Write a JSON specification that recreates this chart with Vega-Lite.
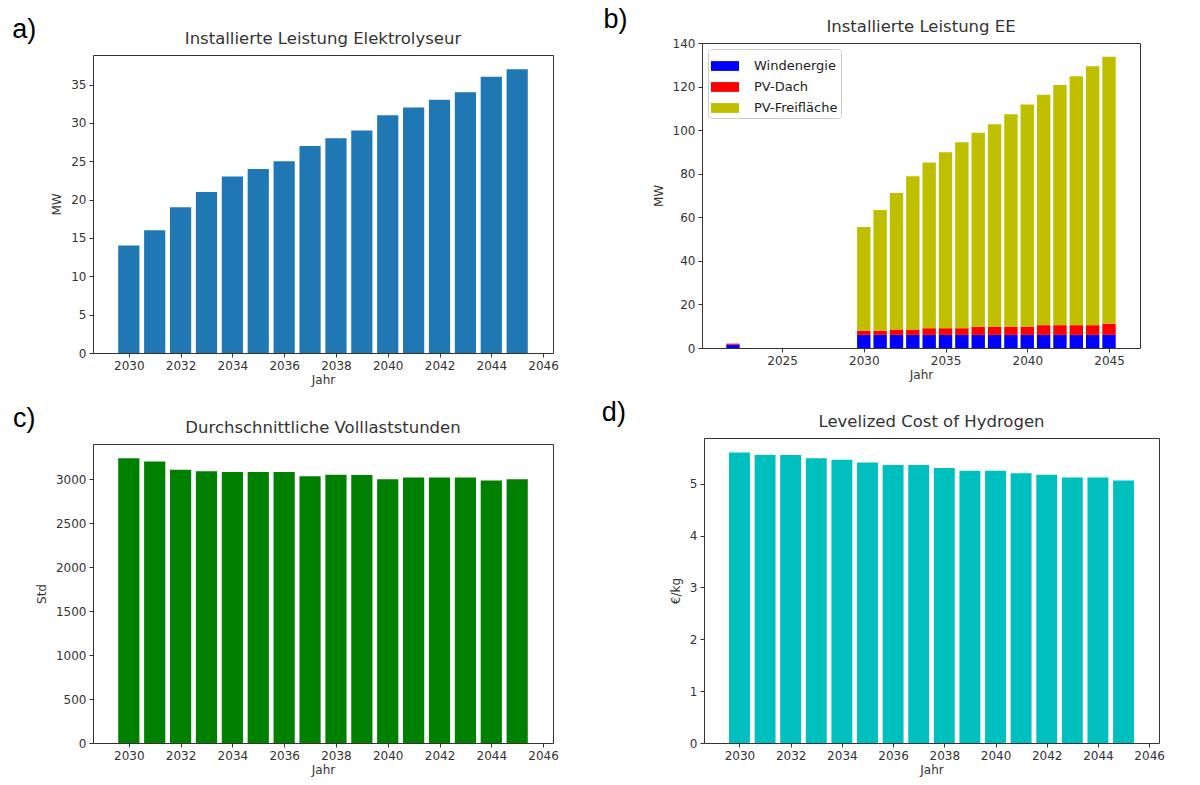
{
  "$schema": "https://vega.github.io/schema/vega-lite/v6.json",
  "padding": {"left": 12, "top": 0, "right": 5, "bottom": 5},
  "background": "white",
  "spacing": 9,
  "resolve": {"scale": {"color": "independent"}, "legend": {"color": "independent"}},
  "datasets": {
    "elektrolyseur": [
      {"Jahr": 2030, "MW": 14}, {"Jahr": 2031, "MW": 16}, {"Jahr": 2032, "MW": 19}, {"Jahr": 2033, "MW": 21},
      {"Jahr": 2034, "MW": 23}, {"Jahr": 2035, "MW": 24}, {"Jahr": 2036, "MW": 25}, {"Jahr": 2037, "MW": 27},
      {"Jahr": 2038, "MW": 28}, {"Jahr": 2039, "MW": 29}, {"Jahr": 2040, "MW": 31}, {"Jahr": 2041, "MW": 32},
      {"Jahr": 2042, "MW": 33}, {"Jahr": 2043, "MW": 34}, {"Jahr": 2044, "MW": 36}, {"Jahr": 2045, "MW": 37}
    ],
    "ee": [
      {"Jahr": 2022, "Technologie": "Windenergie", "Ebene": 1, "MW": 1.5}, {"Jahr": 2022, "Technologie": "PV-Dach", "Ebene": 2, "MW": 0.5}, {"Jahr": 2022, "Technologie": "PV-Freifläche", "Ebene": 3, "MW": 0},
      {"Jahr": 2030, "Technologie": "Windenergie", "Ebene": 1, "MW": 6}, {"Jahr": 2030, "Technologie": "PV-Dach", "Ebene": 2, "MW": 2.0}, {"Jahr": 2030, "Technologie": "PV-Freifläche", "Ebene": 3, "MW": 47.5},
      {"Jahr": 2031, "Technologie": "Windenergie", "Ebene": 1, "MW": 6}, {"Jahr": 2031, "Technologie": "PV-Dach", "Ebene": 2, "MW": 2.0}, {"Jahr": 2031, "Technologie": "PV-Freifläche", "Ebene": 3, "MW": 55.3},
      {"Jahr": 2032, "Technologie": "Windenergie", "Ebene": 1, "MW": 6}, {"Jahr": 2032, "Technologie": "PV-Dach", "Ebene": 2, "MW": 2.5}, {"Jahr": 2032, "Technologie": "PV-Freifläche", "Ebene": 3, "MW": 62.6},
      {"Jahr": 2033, "Technologie": "Windenergie", "Ebene": 1, "MW": 6}, {"Jahr": 2033, "Technologie": "PV-Dach", "Ebene": 2, "MW": 2.5}, {"Jahr": 2033, "Technologie": "PV-Freifläche", "Ebene": 3, "MW": 70.3},
      {"Jahr": 2034, "Technologie": "Windenergie", "Ebene": 1, "MW": 6}, {"Jahr": 2034, "Technologie": "PV-Dach", "Ebene": 2, "MW": 3.1}, {"Jahr": 2034, "Technologie": "PV-Freifläche", "Ebene": 3, "MW": 76.1},
      {"Jahr": 2035, "Technologie": "Windenergie", "Ebene": 1, "MW": 6}, {"Jahr": 2035, "Technologie": "PV-Dach", "Ebene": 2, "MW": 3.1}, {"Jahr": 2035, "Technologie": "PV-Freifläche", "Ebene": 3, "MW": 80.7},
      {"Jahr": 2036, "Technologie": "Windenergie", "Ebene": 1, "MW": 6}, {"Jahr": 2036, "Technologie": "PV-Dach", "Ebene": 2, "MW": 3.1}, {"Jahr": 2036, "Technologie": "PV-Freifläche", "Ebene": 3, "MW": 85.3},
      {"Jahr": 2037, "Technologie": "Windenergie", "Ebene": 1, "MW": 6}, {"Jahr": 2037, "Technologie": "PV-Dach", "Ebene": 2, "MW": 3.8}, {"Jahr": 2037, "Technologie": "PV-Freifläche", "Ebene": 3, "MW": 89.0},
      {"Jahr": 2038, "Technologie": "Windenergie", "Ebene": 1, "MW": 6}, {"Jahr": 2038, "Technologie": "PV-Dach", "Ebene": 2, "MW": 3.8}, {"Jahr": 2038, "Technologie": "PV-Freifläche", "Ebene": 3, "MW": 92.9},
      {"Jahr": 2039, "Technologie": "Windenergie", "Ebene": 1, "MW": 6}, {"Jahr": 2039, "Technologie": "PV-Dach", "Ebene": 2, "MW": 3.8}, {"Jahr": 2039, "Technologie": "PV-Freifläche", "Ebene": 3, "MW": 97.5},
      {"Jahr": 2040, "Technologie": "Windenergie", "Ebene": 1, "MW": 6}, {"Jahr": 2040, "Technologie": "PV-Dach", "Ebene": 2, "MW": 3.8}, {"Jahr": 2040, "Technologie": "PV-Freifläche", "Ebene": 3, "MW": 102.0},
      {"Jahr": 2041, "Technologie": "Windenergie", "Ebene": 1, "MW": 6}, {"Jahr": 2041, "Technologie": "PV-Dach", "Ebene": 2, "MW": 4.5}, {"Jahr": 2041, "Technologie": "PV-Freifläche", "Ebene": 3, "MW": 105.8},
      {"Jahr": 2042, "Technologie": "Windenergie", "Ebene": 1, "MW": 6}, {"Jahr": 2042, "Technologie": "PV-Dach", "Ebene": 2, "MW": 4.5}, {"Jahr": 2042, "Technologie": "PV-Freifläche", "Ebene": 3, "MW": 110.2},
      {"Jahr": 2043, "Technologie": "Windenergie", "Ebene": 1, "MW": 6}, {"Jahr": 2043, "Technologie": "PV-Dach", "Ebene": 2, "MW": 4.5}, {"Jahr": 2043, "Technologie": "PV-Freifläche", "Ebene": 3, "MW": 114.2},
      {"Jahr": 2044, "Technologie": "Windenergie", "Ebene": 1, "MW": 6}, {"Jahr": 2044, "Technologie": "PV-Dach", "Ebene": 2, "MW": 4.5}, {"Jahr": 2044, "Technologie": "PV-Freifläche", "Ebene": 3, "MW": 118.8},
      {"Jahr": 2045, "Technologie": "Windenergie", "Ebene": 1, "MW": 6}, {"Jahr": 2045, "Technologie": "PV-Dach", "Ebene": 2, "MW": 5.2}, {"Jahr": 2045, "Technologie": "PV-Freifläche", "Ebene": 3, "MW": 122.5}
    ],
    "volllast": [
      {"Jahr": 2030, "Std": 3241}, {"Jahr": 2031, "Std": 3204}, {"Jahr": 2032, "Std": 3109}, {"Jahr": 2033, "Std": 3094},
      {"Jahr": 2034, "Std": 3083}, {"Jahr": 2035, "Std": 3083}, {"Jahr": 2036, "Std": 3083}, {"Jahr": 2037, "Std": 3037},
      {"Jahr": 2038, "Std": 3053}, {"Jahr": 2039, "Std": 3049}, {"Jahr": 2040, "Std": 3003}, {"Jahr": 2041, "Std": 3022},
      {"Jahr": 2042, "Std": 3022}, {"Jahr": 2043, "Std": 3022}, {"Jahr": 2044, "Std": 2988}, {"Jahr": 2045, "Std": 3003}
    ],
    "lcoh": [
      {"Jahr": 2030, "EUR": 5.60}, {"Jahr": 2031, "EUR": 5.55}, {"Jahr": 2032, "EUR": 5.55}, {"Jahr": 2033, "EUR": 5.49},
      {"Jahr": 2034, "EUR": 5.46}, {"Jahr": 2035, "EUR": 5.41}, {"Jahr": 2036, "EUR": 5.36}, {"Jahr": 2037, "EUR": 5.36},
      {"Jahr": 2038, "EUR": 5.30}, {"Jahr": 2039, "EUR": 5.25}, {"Jahr": 2040, "EUR": 5.25}, {"Jahr": 2041, "EUR": 5.20},
      {"Jahr": 2042, "EUR": 5.17}, {"Jahr": 2043, "EUR": 5.12}, {"Jahr": 2044, "EUR": 5.12}, {"Jahr": 2045, "EUR": 5.06}
    ],
    "leer": []
  },
  "config": {
    "font": "DejaVu Sans",
    "view": {"stroke": "#333333", "strokeWidth": 1},
    "axis": {"grid": false, "domain": false, "tickColor": "#333333", "tickSize": 4, "labelColor": "#333333", "labelFontSize": 12, "titleFontSize": 12, "titleFontWeight": "normal", "titleColor": "#333333", "labelFont": "DejaVu Sans", "titleFont": "DejaVu Sans", "labelFlush": false, "labelOverlap": false, "labelPadding": 3},
    "axisX": {"titlePadding": 3},
    "axisY": {"titlePadding": 7},
    "title": {"fontSize": 16.5, "fontWeight": "normal", "font": "DejaVu Sans", "color": "#333333", "offset": 7.5},
    "legend": {"labelFont": "DejaVu Sans", "labelFontSize": 13, "labelColor": "#222222"}
  },
  "vconcat": [
    {
      "spacing": 44,
      "resolve": {"scale": {"color": "independent"}, "legend": {"color": "independent"}},
      "hconcat": [
        {
          "spacing": 0,
          "vconcat": [
            {"width": 1, "height": 15, "view": {"stroke": null}, "data": {"name": "leer"}, "mark": "rule", "encoding": {}},
            {
              "title": {"text": "a)", "anchor": "start", "font": "Liberation Sans", "fontSize": 27, "fontWeight": "normal", "color": "#000000", "offset": -13, "dx": -38},
              "vconcat": [
                {
                  "width": 460, "height": 298,
                  "title": {"text": "Installierte Leistung Elektrolyseur"},
                  "data": {"name": "elektrolyseur"},
                  "mark": {"type": "bar", "width": 21.2, "color": "#1f77b4"},
                  "encoding": {
                    "x": {"field": "Jahr", "type": "quantitative", "title": "Jahr", "scale": {"domain": [2028.81, 2046.19], "nice": false, "zero": false}, "axis": {"values": [2030, 2032, 2034, 2036, 2038, 2040, 2042, 2044, 2046], "format": "d"}},
                    "y": {"field": "MW", "type": "quantitative", "title": "MW", "scale": {"domain": [0, 38.85], "nice": false}, "axis": {"values": [0, 5, 10, 15, 20, 25, 30, 35]}}
                  }
                }
              ]
            }
          ]
        },
        {
          "spacing": 0,
          "resolve": {"scale": {"color": "independent"}, "legend": {"color": "independent"}},
          "vconcat": [
            {"width": 1, "height": 5, "view": {"stroke": null}, "data": {"name": "leer"}, "mark": "rule", "encoding": {}},
            {
              "title": {"text": "b)", "anchor": "start", "font": "Liberation Sans", "fontSize": 27, "fontWeight": "normal", "color": "#000000", "offset": -15, "dx": -48},
              "resolve": {"scale": {"color": "independent"}, "legend": {"color": "independent"}},
              "vconcat": [
                {
                  "width": 438, "height": 305,
                  "title": {"text": "Installierte Leistung EE", "offset": 1.5},
                  "data": {"name": "ee"},
                  "mark": {"type": "bar", "width": 13.4},
                  "encoding": {
                    "x": {"field": "Jahr", "type": "quantitative", "title": "Jahr", "scale": {"domain": [2020.41, 2046.59], "nice": false, "zero": false}, "axis": {"values": [2025, 2030, 2035, 2040, 2045], "format": "d"}},
                    "y": {"field": "MW", "type": "quantitative", "title": "MW", "stack": "zero", "scale": {"domain": [0, 140], "nice": false}, "axis": {"values": [0, 20, 40, 60, 80, 100, 120, 140]}},
                    "order": {"field": "Ebene", "type": "quantitative", "sort": "ascending"},
                    "color": {"field": "Technologie", "type": "nominal", "sort": ["Windenergie", "PV-Dach", "PV-Freifläche"], "scale": {"domain": ["Windenergie", "PV-Dach", "PV-Freifläche"], "range": ["#0000ff", "#ff0000", "#bfbf00"]},
                      "legend": {"title": null, "orient": "top-left", "offset": 6, "fillColor": "white", "strokeColor": "#cccccc", "cornerRadius": 3, "padding": 3, "rowPadding": 0, "symbolType": "M-1,-0.35H1V0.35H-1Z", "symbolSize": 784, "symbolStrokeWidth": 0, "symbolOpacity": 1, "labelOffset": 15}}
                  }
                }
              ]
            }
          ]
        }
      ]
    },
    {
      "spacing": 42,
      "hconcat": [
        {
          "spacing": 0,
          "vconcat": [
            {"width": 1, "height": 9, "view": {"stroke": null}, "data": {"name": "leer"}, "mark": "rule", "encoding": {}},
            {
              "title": {"text": "c)", "anchor": "start", "font": "Liberation Sans", "fontSize": 27, "fontWeight": "normal", "color": "#000000", "offset": -13, "dx": -22},
              "vconcat": [
                {
                  "width": 460, "height": 299,
                  "title": {"text": "Durchschnittliche Volllaststunden"},
                  "data": {"name": "volllast"},
                  "mark": {"type": "bar", "width": 21.2, "color": "#008000"},
                  "encoding": {
                    "x": {"field": "Jahr", "type": "quantitative", "title": "Jahr", "scale": {"domain": [2028.81, 2046.19], "nice": false, "zero": false}, "axis": {"values": [2030, 2032, 2034, 2036, 2038, 2040, 2042, 2044, 2046], "format": "d"}},
                    "y": {"field": "Std", "type": "quantitative", "title": "Std", "scale": {"domain": [0, 3403], "nice": false}, "axis": {"values": [0, 500, 1000, 1500, 2000, 2500, 3000], "format": "d"}}
                  }
                }
              ]
            }
          ]
        },
        {
          "spacing": 0,
          "vconcat": [
            {"width": 1, "height": 3, "view": {"stroke": null}, "data": {"name": "leer"}, "mark": "rule", "encoding": {}},
            {
              "title": {"text": "d)", "anchor": "start", "font": "Liberation Sans", "fontSize": 27, "fontWeight": "normal", "color": "#000000", "offset": -13, "dx": -67},
              "vconcat": [
                {
                  "width": 455, "height": 305,
                  "title": {"text": "Levelized Cost of Hydrogen"},
                  "data": {"name": "lcoh"},
                  "mark": {"type": "bar", "width": 20.9, "color": "#00bfbf"},
                  "encoding": {
                    "x": {"field": "Jahr", "type": "quantitative", "title": "Jahr", "scale": {"domain": [2028.81, 2046.19], "nice": false, "zero": false}, "axis": {"values": [2030, 2032, 2034, 2036, 2038, 2040, 2042, 2044, 2046], "format": "d"}},
                    "y": {"field": "EUR", "type": "quantitative", "title": "€/kg", "scale": {"domain": [0, 5.88], "nice": false}, "axis": {"values": [0, 1, 2, 3, 4, 5]}}
                  }
                }
              ]
            }
          ]
        }
      ]
    }
  ]
}
